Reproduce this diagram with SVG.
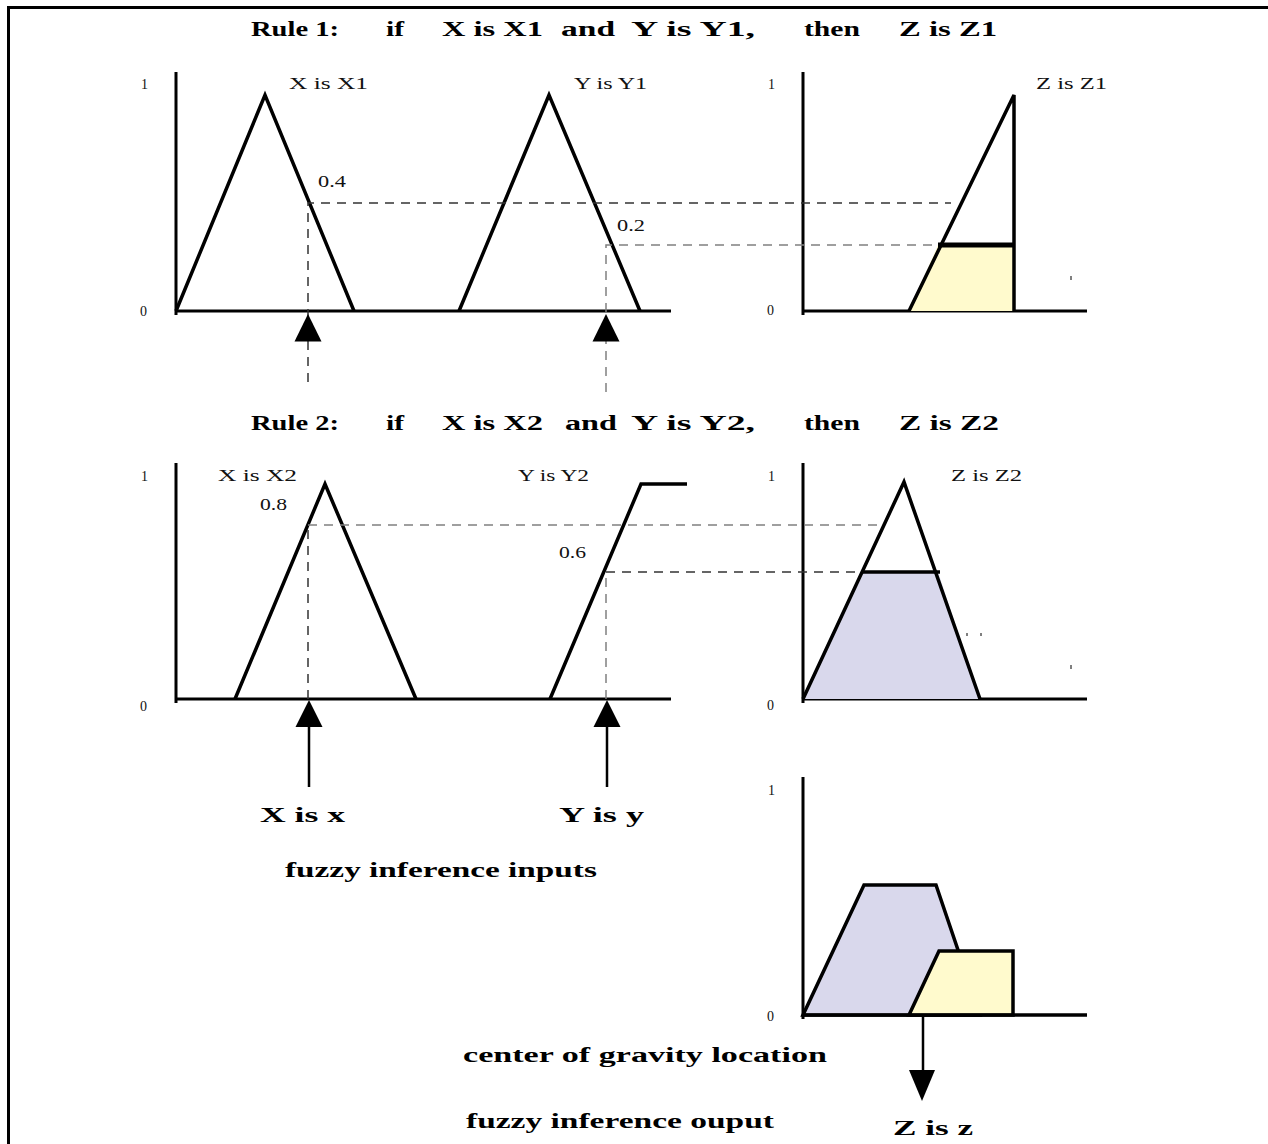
<svg xmlns="http://www.w3.org/2000/svg" width="1268" height="1144" viewBox="0 0 1268 1144">
<style>
.bd{font-family:"Liberation Serif","Times New Roman",serif;font-weight:bold;font-size:21px;fill:#000}
.tt{font-family:"Liberation Serif","Times New Roman",serif;font-weight:bold;font-size:20px;fill:#000}
.lb{font-family:"Liberation Serif","Times New Roman",serif;font-size:17px;fill:#111}
.tk{font-family:"Liberation Serif","Times New Roman",serif;font-size:14px;fill:#111}
.ax{stroke:#000;stroke-width:3;fill:none}
.mf{stroke:#000;stroke-width:3.5;fill:none;stroke-linejoin:miter}
.yl{stroke:#000;stroke-width:3.5;fill:#fffacd}
.lv{stroke:#000;stroke-width:3.5;fill:#d9d8ec}
.dk{stroke:#333;stroke-width:1.5;stroke-dasharray:9 7;fill:none}
.gy{stroke:#808080;stroke-width:1.5;stroke-dasharray:9 7;fill:none}
.ar{fill:#000}
</style>
<rect width="1268" height="1144" fill="#fff"/>
<path d="M8.5,1144 V7.5 H1268" stroke="#000" stroke-width="3" fill="none"/>

<g id="titles">
<text class="tt" transform="translate(251,36) scale(1.4,1)" textLength="62.9" lengthAdjust="spacingAndGlyphs">Rule 1:</text>
<text class="tt" transform="translate(386,36) scale(1.4,1)" textLength="12.9" lengthAdjust="spacingAndGlyphs">if</text>
<text class="tt" transform="translate(442,36) scale(1.4,1)" textLength="72.1" lengthAdjust="spacingAndGlyphs">X is X1</text>
<text class="tt" transform="translate(561,36) scale(1.4,1)" textLength="38.6" lengthAdjust="spacingAndGlyphs">and</text>
<text class="tt" transform="translate(631,36) scale(1.4,1)" textLength="88.6" lengthAdjust="spacingAndGlyphs">Y is Y1,</text>
<text class="tt" transform="translate(804,36) scale(1.4,1)" textLength="40" lengthAdjust="spacingAndGlyphs">then</text>
<text class="tt" transform="translate(899,36) scale(1.4,1)" textLength="70" lengthAdjust="spacingAndGlyphs">Z is Z1</text>
<text class="tt" transform="translate(251,430) scale(1.4,1)" textLength="62.9" lengthAdjust="spacingAndGlyphs">Rule 2:</text>
<text class="tt" transform="translate(386,430) scale(1.4,1)" textLength="12.9" lengthAdjust="spacingAndGlyphs">if</text>
<text class="tt" transform="translate(442,430) scale(1.4,1)" textLength="72.1" lengthAdjust="spacingAndGlyphs">X is X2</text>
<text class="tt" transform="translate(565,430) scale(1.4,1)" textLength="37.1" lengthAdjust="spacingAndGlyphs">and</text>
<text class="tt" transform="translate(631,430) scale(1.4,1)" textLength="88.6" lengthAdjust="spacingAndGlyphs">Y is Y2,</text>
<text class="tt" transform="translate(804,430) scale(1.4,1)" textLength="40" lengthAdjust="spacingAndGlyphs">then</text>
<text class="tt" transform="translate(899,430) scale(1.4,1)" textLength="71.4" lengthAdjust="spacingAndGlyphs">Z is Z2</text>
</g>

<g id="rule1-inputs">
<path class="ax" d="M176,72 V315 M176,311 H671"/>
<text class="tk" x="141" y="89">1</text>
<text class="tk" x="140" y="316">0</text>
<path class="mf" d="M176,311 L265,95 L354,311"/>
<path class="mf" d="M459,311 L549,95 L640,311"/>
<text class="lb" transform="translate(289,89) scale(1.3,1)" textLength="60.8" lengthAdjust="spacingAndGlyphs">X is X1</text>
<text class="lb" transform="translate(574,89) scale(1.3,1)" textLength="56.2" lengthAdjust="spacingAndGlyphs">Y is Y1</text>
<text class="lb" transform="translate(318,187) scale(1.3,1)" textLength="21.5" lengthAdjust="spacingAndGlyphs">0.4</text>
<text class="lb" transform="translate(617,231) scale(1.3,1)" textLength="21.5" lengthAdjust="spacingAndGlyphs">0.2</text>
</g>

<g id="rule1-output">
<path class="ax" d="M803,72 V315 M803,311 H1087"/>
<text class="tk" x="768" y="89">1</text>
<text class="tk" x="767" y="315">0</text>
<path d="M909,311 L938,245 H1014 V311 Z" fill="#fffacd"/>
<path class="mf" d="M909,311 L1014,95 V311"/>
<path d="M938,245 H1014" stroke="#000" stroke-width="5"/>
<text class="lb" transform="translate(1036,89) scale(1.3,1)" textLength="54.6" lengthAdjust="spacingAndGlyphs">Z is Z1</text>
<path d="M1071,276 V280" stroke="#000" stroke-width="1"/>
</g>

<g id="rule2-inputs">
<path class="ax" d="M176,463 V703 M176,699 H671"/>
<text class="tk" x="141" y="481">1</text>
<text class="tk" x="140" y="711">0</text>
<path class="mf" d="M235,699 L325,484 L416,699"/>
<path class="mf" d="M550,699 L641,484 H687"/>
<text class="lb" transform="translate(218,481) scale(1.3,1)" textLength="60.8" lengthAdjust="spacingAndGlyphs">X is X2</text>
<text class="lb" transform="translate(518,481) scale(1.3,1)" textLength="54.6" lengthAdjust="spacingAndGlyphs">Y is Y2</text>
<text class="lb" transform="translate(260,510) scale(1.3,1)" textLength="20.8" lengthAdjust="spacingAndGlyphs">0.8</text>
<text class="lb" transform="translate(559,558) scale(1.3,1)" textLength="20.8" lengthAdjust="spacingAndGlyphs">0.6</text>
</g>

<g id="rule2-output">
<path class="ax" d="M803,463 V703 M803,699 H1087"/>
<text class="tk" x="768" y="481">1</text>
<text class="tk" x="767" y="710">0</text>
<path d="M803,699 L864,572 H938 L980,699 Z" fill="#d9d8ec"/>
<path class="mf" d="M803,699 L904,482 L980,699"/>
<path d="M862,572 H940" stroke="#000" stroke-width="3.5"/>
<text class="lb" transform="translate(951,481) scale(1.3,1)" textLength="54.6" lengthAdjust="spacingAndGlyphs">Z is Z2</text>
<path d="M967,633 V636 M981,633 V636 M1071,665 V669" stroke="#000" stroke-width="1"/>
</g>

<g id="aggregate-output">
<path class="ax" d="M803,777 V1019 M803,1015 H1087"/>
<text class="tk" x="768" y="795">1</text>
<text class="tk" x="767" y="1021">0</text>
<path class="lv" d="M803,1015 L864,885 H936 L980,1015 Z"/>
<path class="yl" d="M909,1015 L939,951 H1013 V1015 Z"/>
<path class="ax" d="M803,1015 H1087"/>
</g>

<g id="connectors">
<path class="dk" d="M308,382 V203 H951"/>
<path class="gy" d="M606,392 V245 H939"/>
<path class="gy" d="M308,525 H880"/>
<path class="dk" d="M308,699 V525"/>
<path class="dk" d="M606,572 H861"/>
<path class="gy" d="M606,699 V572"/>
<path class="ar" d="M294.5,341.5 L308,314 L321.5,341.5 Z"/>
<path class="ar" d="M592.5,341.5 L606,314 L619.5,341.5 Z"/>
<path class="ar" d="M295.5,727 L309,700 L322.5,727 Z"/>
<path class="ar" d="M593.5,727 L607,700 L620.5,727 Z"/>
<path d="M309,727 V787 M607,727 V787 M923,1015 V1071" stroke="#000" stroke-width="2.5"/>
<path class="ar" d="M909,1070 L935,1070 L922,1101 Z"/>
</g>

<g id="labels">
<text class="bd" transform="translate(260,822) scale(1.35,1)" textLength="63" lengthAdjust="spacingAndGlyphs">X is x</text>
<text class="bd" transform="translate(559,822) scale(1.35,1)" textLength="63" lengthAdjust="spacingAndGlyphs">Y is y</text>
<text class="bd" transform="translate(285,877) scale(1.35,1)" textLength="231" lengthAdjust="spacingAndGlyphs">fuzzy inference inputs</text>
<text class="bd" transform="translate(463,1062) scale(1.35,1)" textLength="269.6" lengthAdjust="spacingAndGlyphs">center of gravity location</text>
<text class="bd" transform="translate(466,1128) scale(1.35,1)" textLength="228.1" lengthAdjust="spacingAndGlyphs">fuzzy inference ouput</text>
<text class="bd" transform="translate(893,1135) scale(1.35,1)" textLength="59.3" lengthAdjust="spacingAndGlyphs">Z is z</text>
</g>
</svg>
